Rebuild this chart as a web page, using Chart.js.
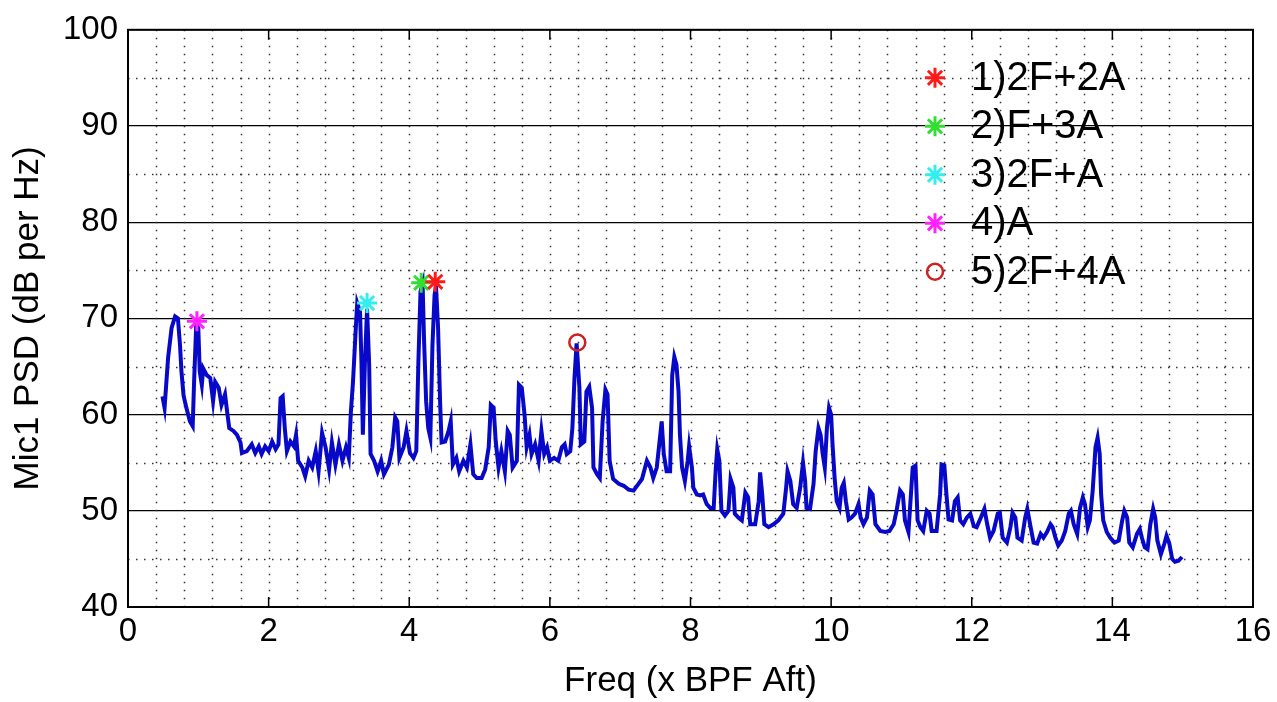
<!DOCTYPE html>
<html>
<head>
<meta charset="utf-8">
<script src="https://cdn.jsdelivr.net/npm/chart.js@4.4.1/dist/chart.umd.min.js"></script>
<style>
  html, body { margin: 0; padding: 0; background: #fff; }
  #wrap { width: 1277px; height: 702px; }
</style>
</head>
<body>
<div id="wrap"><canvas id="psdChart" width="1277" height="702"></canvas></div>
<script>
// spectrum trace (freq in x BPF Aft, level in dB per Hz)
const freq = [
  0.49,0.52,0.57,0.62,0.67,0.71,0.74,0.76,0.79,0.83,0.88,0.92,0.94,0.97,1.0,1.02,1.05,1.07,1.12,1.17,
  1.21,1.24,1.29,1.33,1.38,1.41,1.44,1.5,1.55,1.6,1.62,1.69,1.76,1.81,1.86,1.9,1.95,2.0,2.05,2.1,
  2.14,2.17,2.2,2.23,2.26,2.31,2.36,2.39,2.42,2.48,2.52,2.57,2.62,2.67,2.71,2.76,2.81,2.86,2.9,2.95,
  3.0,3.05,3.1,3.14,3.17,3.2,3.24,3.26,3.3,3.32,3.34,3.37,3.4,3.43,3.45,3.5,3.55,3.6,3.64,3.71,
  3.76,3.8,3.83,3.86,3.92,3.96,4.01,4.06,4.1,4.13,4.16,4.19,4.21,4.24,4.27,4.3,4.33,4.36,4.38,4.41,
  4.44,4.46,4.51,4.56,4.59,4.62,4.67,4.71,4.77,4.82,4.87,4.91,4.96,5.03,5.08,5.13,5.16,5.2,5.23,5.27,
  5.31,5.36,5.4,5.43,5.47,5.53,5.56,5.6,5.64,5.67,5.71,5.74,5.79,5.84,5.88,5.92,5.96,6.0,6.06,6.12,
  6.17,6.21,6.24,6.29,6.32,6.35,6.38,6.42,6.44,6.49,6.52,6.56,6.6,6.62,6.67,6.71,6.75,6.79,6.82,6.85,
  6.9,6.98,7.05,7.12,7.19,7.26,7.31,7.38,7.43,7.47,7.52,7.56,7.59,7.62,7.66,7.71,7.74,7.77,7.8,7.83,
  7.85,7.88,7.92,7.96,7.98,8.02,8.04,8.09,8.14,8.18,8.23,8.28,8.33,8.36,8.38,8.41,8.44,8.49,8.54,8.57,
  8.61,8.63,8.68,8.73,8.78,8.82,8.85,8.92,8.97,8.99,9.02,9.05,9.11,9.18,9.25,9.32,9.36,9.38,9.42,9.46,
  9.51,9.56,9.6,9.63,9.65,9.7,9.75,9.78,9.82,9.85,9.88,9.91,9.94,9.97,10.0,10.02,10.05,10.08,10.12,10.15,
  10.18,10.21,10.25,10.29,10.34,10.39,10.42,10.46,10.51,10.55,10.59,10.63,10.7,10.77,10.83,10.89,10.93,10.98,11.02,11.05,
  11.1,11.16,11.2,11.23,11.27,11.31,11.36,11.4,11.43,11.5,11.55,11.57,11.61,11.64,11.67,11.72,11.76,11.8,11.835,11.88,
  11.93,11.98,12.03,12.07,12.13,12.18,12.22,12.26,12.31,12.37,12.4,12.44,12.5,12.55,12.58,12.62,12.65,12.71,12.76,12.79,
  12.83,12.88,12.93,12.98,13.02,13.07,13.12,13.15,13.19,13.23,13.28,13.33,13.38,13.41,13.45,13.5,13.54,13.58,13.61,13.65,
  13.68,13.72,13.76,13.79,13.82,13.84,13.87,13.92,13.97,14.03,14.09,14.14,14.17,14.21,14.24,14.29,14.35,14.39,14.42,14.46,
  14.5,14.54,14.58,14.61,14.64,14.69,14.74,14.77,14.81,14.85,14.89,14.94,14.99
];
const psd = [
  61.9,60.7,65.9,69,70.2,70,67.2,64.5,62,60.7,59.3,58.8,63.4,69.3,69,64.5,63.1,64.8,64.1,63.8,
  61.4,63.4,62.8,61,62.1,60.3,58.6,58.3,57.9,57.1,56,56.2,56.9,56,56.7,55.9,56.7,56.2,57.2,56.4,
  56.9,61.7,61.9,58.6,56.2,57.2,56.7,57.9,55.2,54.5,53.6,55.2,54.5,56.2,54.1,58.1,56.6,54.3,57.1,54.8,
  56.9,55.2,56.6,55.5,60.3,63.4,69,71.6,70.7,65.5,57.9,65.5,71.0,65.2,55.9,55.2,54.1,55.2,53.8,54.8,
  56.6,59.7,59.3,55.5,56.6,58.3,56,55.5,56.2,65.5,72.8,73.6,67.9,61.4,58.6,57.6,67.2,72.4,73.4,69,
  61,57.1,57.2,58.3,59.3,54.8,55.5,54.1,55.2,54.5,56.9,53.8,53.4,53.4,54.3,56.6,61,60.7,57.2,54.5,
  56.2,54.1,58.3,57.9,54.5,55.2,63.1,62.8,60,56.6,57.9,55.9,56.9,55.2,58.3,55.9,56.6,55.2,55.5,55.2,
  56.6,56.9,55.9,56.2,58.6,63.8,67.4,62.8,56.9,57.2,62.4,62.9,60.7,54.5,53.8,53.4,59.3,62.6,62.1,55.2,
  53.3,52.8,52.6,52.2,52.1,52.8,53.3,55.2,54.5,53.4,54.5,57.2,59.3,55.9,54.1,54.1,64.1,66,65.2,62.4,
  57.9,54.5,53.1,55.2,56.7,54.5,52.4,51.7,51.6,51.7,50.7,50.3,50.3,54.5,56.4,55.2,50,49.5,50,53.3,
  52.4,49.7,49.3,49,51.9,51.4,48.6,48.6,51,54,51.7,48.6,48.3,48.6,49,49.7,52.4,54.1,53.1,50.7,
  50.3,52.4,55,53.1,50.3,50.2,52.8,56.2,58.6,57.9,55.9,54.5,58.6,60.7,60,56.9,53.4,51,50.3,52.4,
  52.9,51,49.1,49.3,49.7,50.7,49.3,48.6,49.3,52.1,51.7,48.6,47.9,47.8,47.9,48.6,50,52.1,51.7,49,
  47.8,54.5,54.7,49,48.3,47.9,50,49.7,47.9,47.9,51.7,54.8,54.7,51.7,49.1,49,51,51.4,49,48.6,
  49.3,49.7,48.4,48.3,49.3,50.2,48.6,47.2,47.9,49.7,49.8,47.2,46.7,48.3,49.8,49.3,47.2,46.9,49.3,50.2,
  48.6,46.7,46.6,47.6,47.2,47.8,48.6,48.3,47.2,46.4,46.9,47.9,49.7,50,48.6,47.6,50.3,51.4,50.7,48.3,
  49,52.1,56.6,57.6,55.9,51.7,49,47.8,47.2,46.7,46.9,49,50,49.3,46.7,46.2,47.6,48.1,47.2,46.2,
  46,48.6,50.2,49.3,46.9,45.5,46.6,47.4,46.6,45,44.7,44.8,45.2
];

// marked harmonics
const markerLabels = ['1)2F+2A', '2)F+3A', '3)2F+A', '4)A', '5)2F+4A'];
const markerFreq = [4.37, 4.17, 3.4, 0.98, 6.39];
const markerPsd = [73.8, 73.7, 71.6, 69.7, 67.5];
const markerColors = ['#ff1a1a', '#33dd33', '#33eeee', '#ff22ff', '#cc2222'];
const markerStyles = ['star', 'star', 'star', 'star', 'circle'];

const xMin = 0, xMax = 16, xStep = 2, xMinorStep = 0.4;
const yMin = 40, yMax = 100, yStep = 10, yMinorStep = 5;

const FONT = '"Liberation Sans", Arial, Helvetica, sans-serif';

const traceData = freq.map((f, i) => ({ x: f, y: psd[i] }));

const datasets = [{
  label: 'Mic1',
  data: traceData,
  borderColor: '#0808c8',
  backgroundColor: '#0808c8',
  borderWidth: 4,
  pointRadius: 0,
  tension: 0,
  order: 10
}];
markerLabels.forEach((lab, i) => {
  datasets.push({
    label: lab,
    data: [{ x: markerFreq[i], y: markerPsd[i] }],
    showLine: false,
    pointStyle: markerStyles[i],
    pointRadius: markerStyles[i] === 'star' ? 10 : 8,
    pointBorderWidth: markerStyles[i] === 'star' ? 3 : 2.5,
    pointBorderColor: markerColors[i],
    pointBackgroundColor: 'rgba(0,0,0,0)',
    order: 1
  });
});

// matlab style dotted grid, box and inner tick marks
const matlabGrid = {
  id: 'matlabGrid',
  beforeDatasetsDraw(chart) {
    const { ctx, chartArea: a, scales: { x, y } } = chart;
    ctx.save();
    ctx.strokeStyle = '#333';
    ctx.lineWidth = 1.5;
    ctx.setLineDash([1.5, 6.5]);
    for (let v = yMin + yMinorStep; v < yMax; v += yStep) {
      const py = Math.round(y.getPixelForValue(v)) + 0.5;
      ctx.beginPath(); ctx.moveTo(a.left, py); ctx.lineTo(a.right, py); ctx.stroke();
    }
    for (let k = 1; k * xMinorStep < xMax - 1e-6; k++) {
      const px = Math.round(x.getPixelForValue(k * xMinorStep)) + 0.5;
      ctx.beginPath(); ctx.moveTo(px, a.top); ctx.lineTo(px, a.bottom); ctx.stroke();
    }
    ctx.restore();
  },
  afterDatasetsDraw(chart) {
    const { ctx, chartArea: a, scales: { x } } = chart;
    ctx.save();
    ctx.strokeStyle = '#000';
    ctx.lineWidth = 1.5;
    for (let v = xMin + xStep; v < xMax; v += xStep) {
      const px = x.getPixelForValue(v);
      ctx.beginPath();
      ctx.moveTo(px, a.top); ctx.lineTo(px, a.top + 10);
      ctx.moveTo(px, a.bottom); ctx.lineTo(px, a.bottom - 10);
      ctx.stroke();
    }
    ctx.lineWidth = 2;
    ctx.strokeRect(a.left, a.top, a.right - a.left, a.bottom - a.top);
    ctx.restore();
  },
  afterDraw(chart) {
    // legend inside the axes, no frame
    const { ctx, chartArea: a } = chart;
    ctx.save();
    ctx.font = '40px ' + FONT;
    ctx.textBaseline = 'middle';
    markerLabels.forEach((lab, i) => {
      const cy = a.top + 48 + i * 48.5;
      const mx = a.left + 807;
      const bw = markerStyles[i] === 'star' ? 3 : 2.5;
      ctx.strokeStyle = markerColors[i];
      ctx.lineWidth = bw;
      ctx.fillStyle = 'rgba(0,0,0,0)';
      Chart.helpers.drawPoint(ctx, {
        pointStyle: markerStyles[i],
        radius: markerStyles[i] === 'star' ? 10 : 8,
        borderWidth: bw,
        rotation: 0
      }, mx, cy);
      ctx.fillStyle = '#000';
      ctx.fillText(lab, a.left + 843, cy + 1);
    });
    ctx.restore();
  }
};

const ctxC = document.getElementById('psdChart');
const psdChart = new Chart(ctxC, {
  type: 'line',
  data: { datasets: datasets },
  options: {
    responsive: false,
    animation: false,
    devicePixelRatio: 1,
    layout: { padding: { top: 27, right: 24, left: 0, bottom: 0 } },
    scales: {
      x: {
        type: 'linear',
        min: xMin,
        max: xMax,
        afterFit(scale) { scale.height = 95; },
        ticks: {
          stepSize: xStep,
          color: '#000',
          padding: 5,
          maxRotation: 0,
          font: { family: FONT, size: 33 }
        },
        grid: { display: false, drawTicks: false },
        border: { display: true, color: '#000', width: 2 },
        title: {
          display: true,
          text: 'Freq (x BPF Aft)',
          color: '#000',
          font: { family: FONT, size: 35, lineHeight: 1.2 },
          padding: { top: 0, bottom: 0 }
        }
      },
      y: {
        type: 'linear',
        min: yMin,
        max: yMax,
        afterFit(scale) { scale.width = 128; },
        ticks: {
          stepSize: yStep,
          color: '#000',
          padding: 10,
          font: { family: FONT, size: 33 }
        },
        grid: { color: '#000', lineWidth: 1.3, drawTicks: false },
        border: { display: true, color: '#000', width: 2 },
        title: {
          display: true,
          text: 'Mic1 PSD (dB per Hz)',
          color: '#000',
          font: { family: FONT, size: 35, lineHeight: 1.2 },
          padding: { top: 7, bottom: 0 }
        }
      }
    },
    plugins: {
      legend: { display: false },
      tooltip: { enabled: false }
    }
  },
  plugins: [matlabGrid]
});
</script>
</body>
</html>
